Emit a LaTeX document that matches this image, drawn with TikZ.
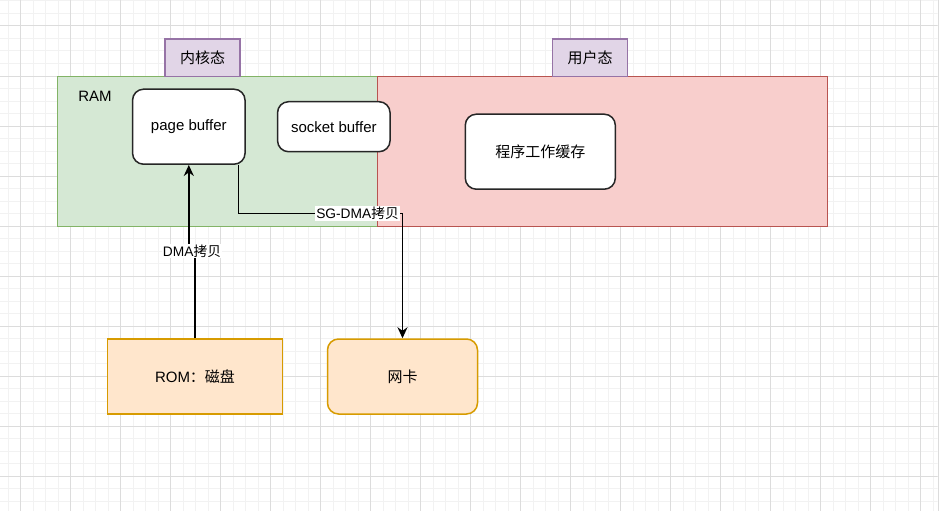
\documentclass[tikz,border=0pt]{standalone}
\usepackage{fontspec}
\setmainfont{Liberation Sans}
\newfontfamily\cjk{Noto Sans CJK SC}
\usetikzlibrary{arrows.meta}

\definecolor{gridminor}{HTML}{F2F2F2}
\definecolor{gridmajor}{HTML}{DCDCDC}
\definecolor{ramfill}{HTML}{D5E8D4}
\definecolor{ramline}{HTML}{82B366}
\definecolor{userfill}{HTML}{F8CECC}
\definecolor{userline}{HTML}{B85450}
\definecolor{tagfill}{HTML}{E1D5E7}
\definecolor{tagline}{HTML}{9673A6}
\definecolor{devfill}{HTML}{FFE6CC}
\definecolor{devline}{HTML}{D79B00}

\begin{document}
\begin{tikzpicture}[
  x=1pt, y=-1pt,
  area/.style={draw,line width=1.5pt,minimum width=#1,minimum height=150pt,inner sep=0pt},
  tag/.style={draw=tagline,fill=tagfill,line width=1.5pt,minimum width=75pt,minimum height=37.5pt,
    inner sep=0pt,font=\fontsize{15pt}{18pt}\selectfont},
  buf/.style={draw=black!85,fill=white,rounded corners=11pt,line width=1.5pt,inner sep=0pt,
    font=\fontsize{15pt}{18pt}\selectfont},
  dev/.style={draw=devline,fill=devfill,line width=1.5pt,minimum width=#1,minimum height=75pt,
    inner sep=0pt,font=\fontsize{15pt}{18pt}\selectfont},
  lbl/.style={fill=white,inner sep=1pt,font=\fontsize{13.75pt}{16pt}\selectfont},
  arr/.style={-{Stealth[length=11pt,width=10pt,inset=3.5pt]},line width=1.5pt}
]
\useasboundingbox (0,0) rectangle (947,511);
% background grid
\begin{scope}
  \clip (0,0) rectangle (937.5,511);
  \foreach \gx in {8.2,20.7,...,937} \draw[gridminor,line width=1pt] (\gx,0) -- (\gx,511);
  \foreach \gy in {1,13.5,...,511} \draw[gridminor,line width=1pt] (0,\gy) -- (937.5,\gy);
  \foreach \gx in {20.7,70.7,...,937} \draw[gridmajor,line width=1pt] (\gx,0) -- (\gx,511);
  \foreach \gy in {26,76,...,511} \draw[gridmajor,line width=1pt] (0,\gy) -- (937.5,\gy);
\end{scope}
\draw[gridmajor,line width=1pt] (938,0) -- (938,511);

% memory areas
\node[area=320pt,draw=ramline,fill=ramfill] (ram) at (217.3,151.7) {};
\node[area=450.4pt,draw=userline,fill=userfill] (user) at (602.5,151.7) {};
\node[tag] (kernel) at (202.7,57.9) {\cjk 内核态};
\node[tag] (usertag) at (590,57.9) {\cjk 用户态};
\node[font=\fontsize{15pt}{18pt}\selectfont] (ramlbl) at (95,96) {RAM};

% buffers
\node[buf,minimum width=112.5pt,minimum height=75pt] (pb) at (188.8,126.7) {page buffer};
\node[buf,minimum width=112.5pt,minimum height=50pt] (sb) at (333.8,126.7) {socket buffer};
\node[buf,minimum width=150pt,minimum height=75pt] (work) at (540.3,151.7) {\cjk 程序工作缓存};

% devices
\node[dev=175pt] (rom) at (195,376.5) {ROM{\cjk ：磁盘}};
\node[dev=150pt,rounded corners=11pt] (nic) at (402.5,376.5) {\cjk 网卡};

% copies
\coordinate (dma) at (192,251);
\coordinate (sgdma) at (357.5,213.7);
\draw[arr] (rom.north) -- (rom.north |- dma) -- (pb.south |- dma) -- (pb.south);
\draw[arr] ([xshift=-7.5pt]pb.south east) |- (sgdma) -| (nic.north);
\node[lbl] (dmalbl) at (dma) {DMA{\cjk 拷贝}};
\node[lbl] (sglbl) at (sgdma) {SG-DMA{\cjk 拷贝}};
\end{tikzpicture}
\end{document}
